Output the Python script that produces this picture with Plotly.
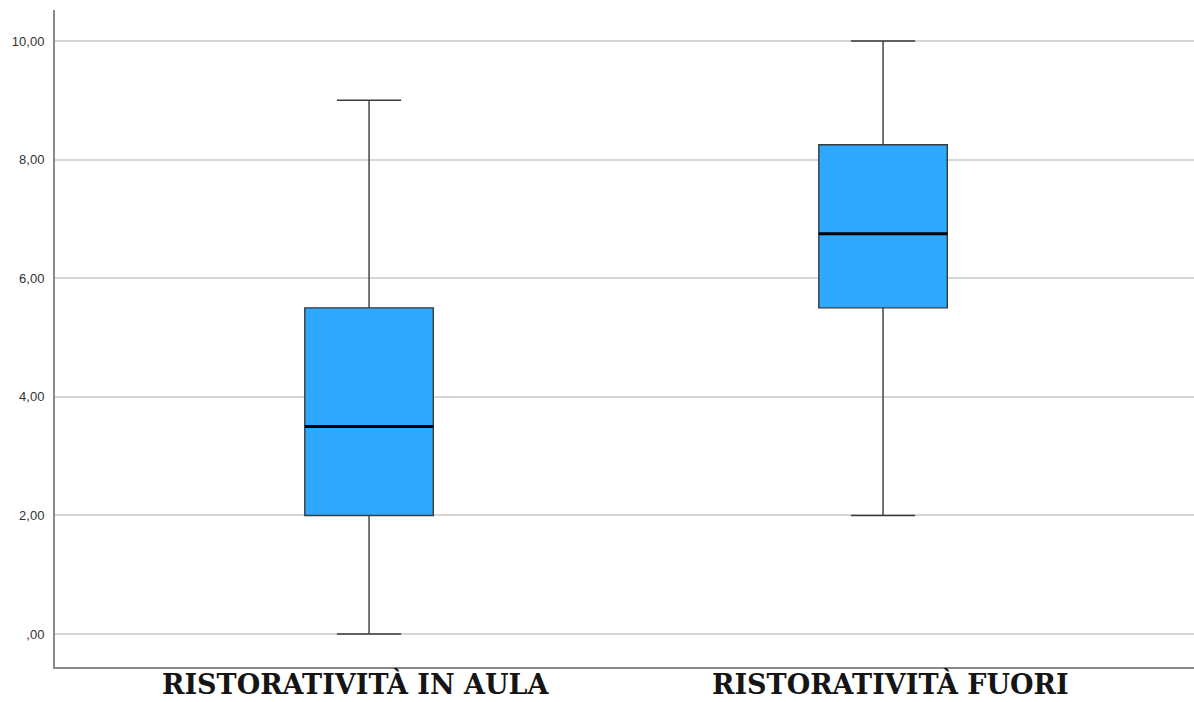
import plotly.graph_objects as go

# Five-number summaries for each group
categories = ["RISTORATIVITÀ IN AULA", "RISTORATIVITÀ FUORI"]
lower = [0.0, 2.0]
q1 = [2.0, 5.5]
median = [3.5, 6.75]
q3 = [5.5, 8.25]
upper = [9.0, 10.0]

y_ticks = [0, 2, 4, 6, 8, 10]
y_tick_labels = [",00", "2,00", "4,00", "6,00", "8,00", "10,00"]

box_width = 0.25
positions = list(range(len(categories)))

fig = go.Figure()
fig.add_trace(go.Box(
    x=positions,
    q1=q1, median=median, q3=q3,
    lowerfence=lower, upperfence=upper,
    width=box_width,
    whiskerwidth=0.5,
    fillcolor="#2EA9FE",
    line=dict(color="#3a3a3a", width=1.4),
    boxpoints=False,
    hoverinfo="skip",
    showlegend=False,
))

# Heavier median bars drawn over each box
for p, m in zip(positions, median):
    fig.add_trace(go.Scatter(
        x=[p - box_width / 2, p + box_width / 2], y=[m, m],
        mode="lines", line=dict(color="#000000", width=3),
        hoverinfo="skip", showlegend=False,
    ))

# Category labels under the axis (bottom of text box at the page edge)
plot_h = 702 - 10 - 35
label_offsets = [-0.025, 0.015]
for p, off, name in zip(positions, label_offsets, categories):
    fig.add_annotation(
        x=p + off, xref="x", y=-35 / plot_h, yref="paper", yanchor="bottom",
        text=name, showarrow=False,
        font=dict(family="DejaVu Serif", size=27, color="#151515",
                  weight="bold"),
    )

fig.update_layout(
    width=1194, height=702,
    margin=dict(l=55, r=0, t=10, b=35),
    plot_bgcolor="white", paper_bgcolor="white",
    xaxis=dict(
        range=[-0.611, 1.605], showticklabels=False, showgrid=False,
        zeroline=False, showline=True, linecolor="#8a8a8a", linewidth=2,
        ticks="",
    ),
    yaxis=dict(
        range=[-0.556, 10.523], tickvals=y_ticks, ticktext=y_tick_labels,
        showgrid=True, gridcolor="#d6d6d6", gridwidth=2, zeroline=False,
        showline=True, linecolor="#8a8a8a", linewidth=2, ticks="",
        ticklabelstandoff=6,
        tickfont=dict(family="Liberation Sans", size=13, color="#333333"),
    ),
)

fig.write_html("out.html")
